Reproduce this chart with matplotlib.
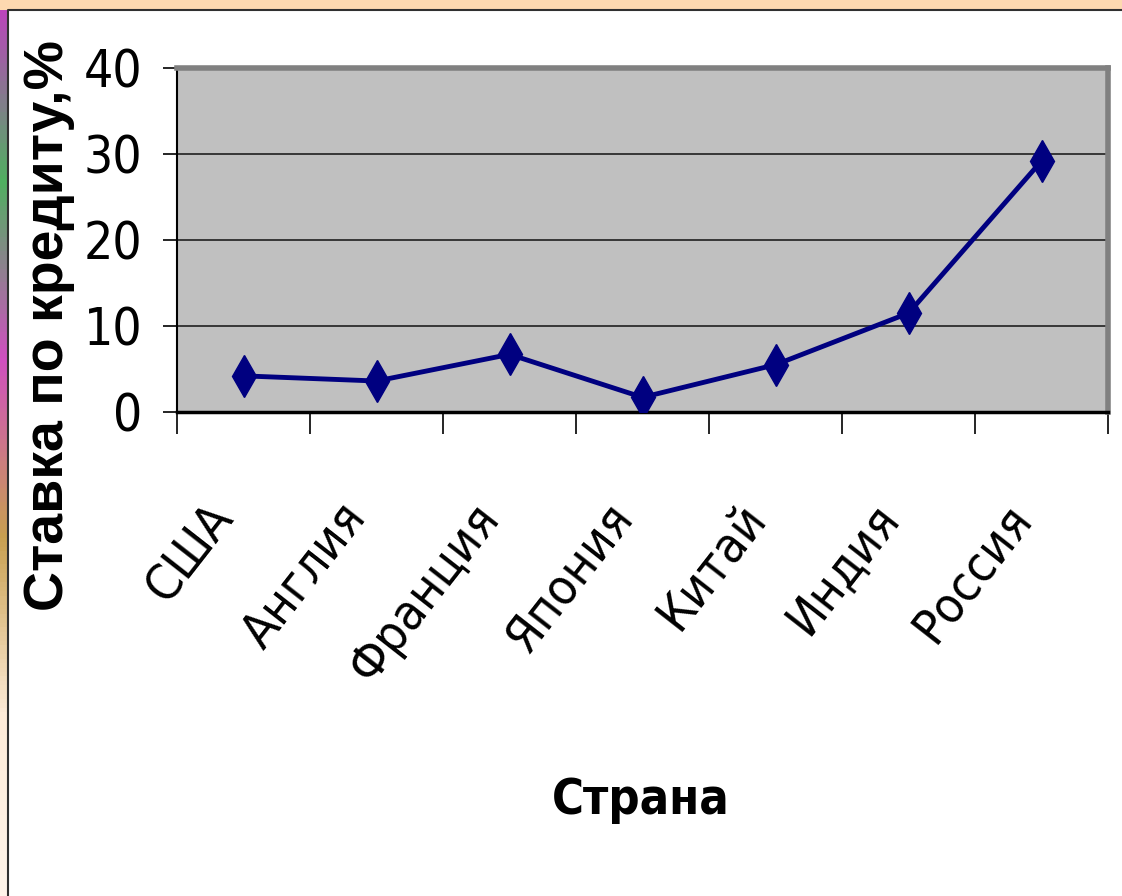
import matplotlib.pyplot as plt
import matplotlib.patches as patches
from matplotlib import font_manager as fm
import numpy as np

countries = ['США', 'Англия', 'Франция', 'Япония', 'Китай', 'Индия', 'Россия']
rates = [4.2, 3.6, 6.7, 1.7, 5.5, 11.5, 29.2]
y_ticks = [0, 10, 20, 30, 40]

# look for a condensed sans face (Arial Narrow look-alike)
narrow_family, narrow_stretch = ['Liberation Sans', 'DejaVu Sans'], 'normal'
names = {(f.name, str(f.stretch)) for f in fm.fontManager.ttflist}
for fam, st in [('Liberation Sans Narrow', 'normal'), ('Liberation Sans Narrow', 'condensed'),
                ('DejaVu Sans', 'condensed'), ('Roboto Condensed', 'normal'),
                ('Roboto Condensed', 'condensed'), ('Open Sans Condensed', 'condensed')]:
    if (fam, st) in names:
        narrow_family, narrow_stretch = [fam, 'DejaVu Sans'], st
        break
condensed_found = narrow_stretch != 'normal' or 'Narrow' in narrow_family[0] or 'Condensed' in narrow_family[0]
scale = 1.0 if condensed_found else 0.85

fig = plt.figure(figsize=(11.22, 8.96), dpi=100)
fig.patch.set_facecolor('white')

# slide decoration: orange top band and colourful left strip
bg = fig.add_axes([0, 0, 1, 1], zorder=-5)
bg.set_xlim(0, 1122)
bg.set_ylim(896, 0)
bg.axis('off')
bg.add_patch(patches.Rectangle((0, 0), 1122, 10, color='#FDD9B0', lw=0))
grad = np.linspace(0, 1, 200)[:, None]
cmap = plt.matplotlib.colors.LinearSegmentedColormap.from_list(
    'strip', ['#C040C0', '#50B060', '#D050C0', '#C8A050', '#FDEBD8', '#FFF4EA'])
bg.imshow(grad, extent=(0, 8, 896, 0), cmap=cmap, aspect='auto')
bg.plot([8, 8, 1122], [896, 10, 10], color='#303030', lw=1.5)

ax = fig.add_axes([0.1578, 0.5402, 0.8298, 0.3839])
ax.set_facecolor('#C0C0C0')
x = np.arange(len(countries)) + 0.5
ax.plot(x, rates, color='#000080', lw=3.5, marker='d', markersize=21,
        markerfacecolor='#000080', markeredgecolor='#000080', zorder=3)

ax.set_xlim(0, len(countries))
ax.set_ylim(0, 40)
ax.set_yticks(y_ticks)
ax.set_yticklabels([str(v) for v in y_ticks], family=narrow_family,
                   stretch=narrow_stretch, fontsize=37 * scale)
ax.set_xticks(np.arange(len(countries) + 1))
ax.set_xticklabels([])
ax.tick_params(axis='x', length=16, width=1.2, direction='out')
ax.tick_params(axis='y', length=10, width=1.2, direction='out', pad=15)
ax.grid(axis='y', color='#202020', lw=1.2)
ax.set_axisbelow(True)

for side in ['top', 'right']:
    ax.spines[side].set_color('#808080')
    ax.spines[side].set_linewidth(4)
ax.spines['left'].set_linewidth(1.5)
ax.spines['bottom'].set_linewidth(2.5)

for xi, name in zip(x, countries):
    ax.annotate(name, xy=(xi, 0), xycoords=('data', 'axes fraction'),
                xytext=(-14, -70), textcoords='offset points',
                rotation=52, rotation_mode='anchor', ha='right', va='center',
                fontsize=36 * scale, family=narrow_family, stretch=narrow_stretch)

fig.text(0.044, 0.637, 'Ставка по кредиту,%', rotation=90, ha='center', va='center',
         fontsize=40, fontweight='bold', family=['Liberation Sans', 'DejaVu Sans'])
fig.text(0.571, 0.107, 'Страна', ha='center', va='center',
         fontsize=35 * scale, fontweight='bold', family=narrow_family,
         stretch=narrow_stretch)

fig.savefig('out.png', dpi=100, facecolor='white')
